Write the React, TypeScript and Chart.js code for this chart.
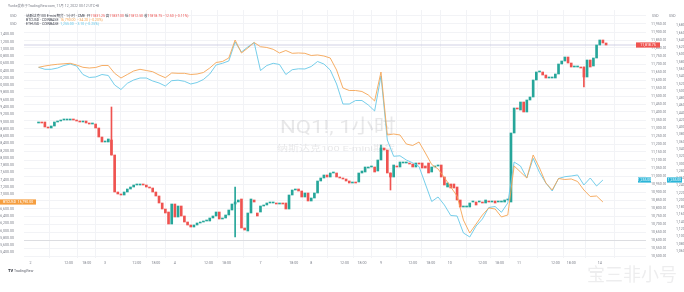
import React, { useEffect, useRef } from 'react';
import { Chart, registerables } from 'chart.js';

Chart.register(...registerables);

// ---- NQ1! hourly candles (CME E-mini Nasdaq-100), one per hour ----
const nqOpen = [
  11331.25, 11337.5, 11337.5, 11306.25, 11300, 11312.5, 11337.5, 11343.75, 11350, 11350,
  11350, 11356.25, 11350, 11343.75, 11337.5, 11343.75, 11331.25, 11325, 11325, 11300,
  11243.75, 11212.5, 11212.5, 11225, 11131.25, 10900, 10887.5, 10881.25, 10900, 10918.75,
  10931.25, 10943.75, 10943.75, 10950, 10943.75, 10931.25, 10925, 10900, 10875, 10831.25,
  10793.75, 10775, 10700, 10825, 10743.75, 10812.5, 10750, 10712.5, 10693.75, 10681.25,
  10693.75, 10706.25, 10712.5, 10718.75, 10718.75, 10737.5, 10750, 10775, 10731.25, 10737.5,
  10756.25, 10787.5, 10825, 10837.5, 10856.25, 10675, 10656.25, 10768.75, 10850, 10768.75,
  10775, 10812.5, 10818.75, 10831.25, 10831.25, 10831.25, 10825, 10831.25, 10831.25, 10793.75,
  10881.25, 10912.5, 10918.75, 10906.25, 10868.75, 10893.75, 10843.75, 10862.5, 10893.75, 10968.75,
  10987.5, 11006.25, 10993.75, 11018.75, 11018.75, 10993.75, 10987.5, 10981.25, 10968.75, 10956.25,
  10962.5, 10962.5, 11018.75, 11025, 11050, 11056.25, 11056.25, 11031.25, 11100, 11175,
  11162.5, 11018.75, 10993.75, 11062.5, 11056.25, 11081.25, 11081.25, 11081.25, 11075, 11056.25,
  11081.25, 11081.25, 11062.5, 11081.25, 11025, 11056.25, 11062.5, 11068.75, 10993.75, 10931.25,
  10950, 10950, 10931.25, 10850, 10806.25, 10806.25, 10806.25, 10837.5, 10837.5, 10837.5,
  10837.5, 10831.25, 10843.75, 10837.5, 10843.75, 10837.5, 10837.5, 10837.5, 10850, 10837.5,
  11268.75, 11425, 11412.5, 11462.5, 11400, 11475, 11493.75, 11600, 11650, 11650,
  11631.25, 11612.5, 11612.5, 11612.5, 11637.5, 11700, 11718.75, 11743.75, 11706.25, 11681.25,
  11681.25, 11681.25, 11681.25, 11618.75, 11725, 11687.5, 11737.5, 11818.75, 11850, 11831.25,
];
const nqClose = [
  11337.5, 11331.25, 11306.25, 11300, 11312.5, 11337.5, 11343.75, 11350, 11350, 11350,
  11356.25, 11350, 11343.75, 11337.5, 11343.75, 11331.25, 11325, 11325, 11300, 11243.75,
  11212.5, 11212.5, 11231.25, 11131.25, 10900, 10887.5, 10881.25, 10900, 10918.75, 10931.25,
  10943.75, 10943.75, 10950, 10943.75, 10931.25, 10925, 10900, 10875, 10831.25, 10793.75,
  10768.75, 10700, 10825, 10743.75, 10812.5, 10750, 10712.5, 10693.75, 10681.25, 10693.75,
  10706.25, 10712.5, 10718.75, 10725, 10737.5, 10750, 10775, 10731.25, 10737.5, 10756.25,
  10787.5, 10825, 10837.5, 10850, 10675, 10662.5, 10768.75, 10856.25, 10837.5, 10750,
  10812.5, 10818.75, 10831.25, 10831.25, 10831.25, 10825, 10831.25, 10825, 10793.75, 10881.25,
  10912.5, 10918.75, 10906.25, 10868.75, 10893.75, 10843.75, 10862.5, 10893.75, 10968.75, 10987.5,
  11006.25, 10993.75, 11018.75, 11025, 10993.75, 10987.5, 10981.25, 10968.75, 10956.25, 10962.5,
  10956.25, 11018.75, 11031.25, 11056.25, 11056.25, 11056.25, 11025, 11100, 11175, 11162.5,
  11018.75, 10993.75, 11068.75, 11056.25, 11087.5, 11081.25, 11081.25, 11075, 11056.25, 11081.25,
  11075, 11050, 11050, 11018.75, 11056.25, 11062.5, 11062.5, 10993.75, 10943.75, 10956.25,
  10925, 10925, 10850, 10806.25, 10806.25, 10812.5, 10831.25, 10837.5, 10818.75, 10837.5,
  10831.25, 10850, 10837.5, 10843.75, 10831.25, 10837.5, 10837.5, 10850, 10850, 11268.75,
  11425, 11418.75, 11462.5, 11400, 11475, 11493.75, 11600, 11650, 11650, 11631.25,
  11612.5, 11612.5, 11612.5, 11637.5, 11700, 11718.75, 11743.75, 11706.25, 11681.25, 11681.25,
  11681.25, 11675, 11618.75, 11725, 11681.25, 11737.5, 11818.75, 11850, 11831.25, 11818.75,
];
// visible wicks: [bar index, high, low]
const nqWicks: [number, number, number][] = [
  [23, 11431.25, 11131.25],
  [62, 10931.25, 10618.75],
  [108, 11193.75, 11175],
  [111, 11018.75, 10912.5],
  [172, 11681.25, 11556.25],
];

// ---- overlay symbols, one value every 2 hourly bars ----
const lineStep = 2;
const btcClose = [
  20494, 20530, 20558, 20577, 20591, 20604, 20558, 20494, 20475, 20489,
  20544, 20544, 20329, 20200, 20296, 20393, 20439, 20406, 20373, 20283,
  20208, 20338, 20329, 20329, 20296, 20310, 20351, 20475, 20626, 20654,
  20750, 21245, 20888, 21025, 21176, 21061, 21039, 20989, 20888, 20956,
  20879, 20888, 20879, 20819, 20833, 20805, 20750, 20420, 19925, 19856,
  19856, 19829, 19733, 19568, 20365, 18633, 18660, 18633, 18385, 18344,
  18440, 18138, 17821, 17698, 17464, 17203, 16955, 16295, 15938, 16185,
  16433, 16625, 16598, 16378, 16433, 17780, 17615, 17450, 18083, 17725,
  17313, 17120, 17436, 17409, 17423, 17354, 17120, 16941, 16955, 16790,
];
const ethClose = [
  1564.9, 1559.4, 1559.4, 1563, 1569.9, 1574, 1568.5, 1545.1, 1536.9, 1538.3,
  1545.1, 1542.4, 1516.3, 1503.9, 1520.9, 1530, 1535.5, 1535.5, 1527.3, 1521.8,
  1513.5, 1528.1, 1529.5, 1526.4, 1519, 1523.1, 1531.4, 1546.5, 1571.3, 1575.9,
  1582.3, 1634.5, 1607, 1620.8, 1633.1, 1556.1, 1569.9, 1575.9, 1572.6, 1545.1,
  1558.3, 1560.8, 1560.3, 1567.1, 1580.9, 1574, 1557.5, 1519, 1464, 1464,
  1473.6, 1473.6, 1461.3, 1444.8, 1541, 1365, 1320.2, 1321.6, 1310, 1302.3,
  1292.1, 1244, 1195.9, 1208.3, 1186.3, 1157.4, 1156, 1109.3, 1098.3, 1128.5,
  1147.8, 1179.4, 1182.1, 1166.2, 1191.8, 1304.5, 1293.5, 1260.5, 1314.7, 1275.6,
  1246.8, 1224.8, 1259.1, 1264.1, 1266, 1268.8, 1241.3, 1260.5, 1238.5, 1255,
];

// ---- time axis ----
const timeTickIdx = [-2.5, 9.5, 15.2, 21, 31, 37, 43, 53.6, 59.3, 70, 80.5, 86, 96.5, 102, 108, 118, 123.7, 129.7, 140, 145.4, 151.5, 163, 168, 177];
const timeTickLabels = ['2', '12:00', '18:00', '3', '12:00', '18:00', '4', '12:00', '18:00', '7', '18:00', '8', '12:00', '18:00', '9', '12:00', '18:00', '10', '12:00', '18:00', '11', '12:00', '18:00', '14'];

// ---- price scales ----
const nqRange = [10487.5, 12037.5];
const nqStep = 50;
const btcRange = [15250, 22070];
const btcStep = 200;
const ethRange = [1040.5, 1722.5];
const ethStep = 20;
const separatorLevel = 10600;

const UP = '#26a69a';
const DOWN = '#ef5350';
const BTC_C = '#f5a555';
const ETH_C = '#67c8e8';
const DARK = '#3a3d48';
const TICK_COLOR = '#7c7f8a';
const TICK_FONT = { size: 3.6, family: 'Roboto' };

const fmt = (v: number) => v.toLocaleString('en-US', { minimumFractionDigits: 2, maximumFractionDigits: 2 });
const stepTicks = (lo: number, hi: number, step: number) => {
  const out: { value: number }[] = [];
  for (let v = Math.ceil(lo / step) * step; v <= hi + 1e-9; v += step) out.push({ value: v });
  return out;
};

function fitText(ctx: CanvasRenderingContext2D, text: string, font: string, x: number, y: number, w: number) {
  ctx.font = font;
  const m = ctx.measureText(text).width;
  ctx.save();
  ctx.translate(x, y);
  ctx.scale(w / m, 1);
  ctx.fillText(text, 0, 0);
  ctx.restore();
}
function segs(ctx: CanvasRenderingContext2D, x: number, y: number, parts: [string, string][]) {
  let cx = x;
  for (const [t, c] of parts) {
    ctx.fillStyle = c;
    ctx.fillText(t, cx, y);
    cx += ctx.measureText(t).width;
  }
}
function tag(ctx: CanvasRenderingContext2D, x0: number, x1: number, yc: number, bg: string, text: string) {
  ctx.fillStyle = bg;
  ctx.fillRect(x0, yc - 2.6, x1 - x0, 5.2);
  ctx.fillStyle = '#ffffff';
  ctx.font = '3.5px Roboto';
  ctx.textBaseline = 'middle';
  ctx.textAlign = 'center';
  ctx.fillText(text, (x0 + x1) / 2, yc + 0.2);
  ctx.textAlign = 'left';
  ctx.textBaseline = 'alphabetic';
}

const overlayPlugin = {
  id: 'tvOverlay',
  beforeDatasetsDraw(chart: any) {
    const { ctx, chartArea: a, scales } = chart;
    ctx.save();
    ctx.textBaseline = 'alphabetic';
    ctx.fillStyle = 'rgba(42,46,57,0.11)';
    fitText(ctx, 'NQ1!, 1小时', '19px Roboto, "Noto Sans CJK SC"', 280, 132.5, 116);
    fitText(ctx, '纳斯达克100 E-mini期货', '8px Roboto, "Noto Sans CJK SC"', 277, 150.5, 118);
    const ys = Math.round(scales.y.getPixelForValue(separatorLevel)) + 0.5;
    ctx.strokeStyle = '#dcdde1';
    ctx.lineWidth = 1;
    ctx.beginPath();
    ctx.moveTo(a.left, ys);
    ctx.lineTo(a.right, ys);
    ctx.stroke();
    const yp = scales.y.getPixelForValue(nqClose[nqClose.length - 1]);
    ctx.strokeStyle = 'rgba(200,200,224,0.55)';
    ctx.lineWidth = 1.6;
    ctx.beginPath();
    ctx.moveTo(a.left, yp);
    ctx.lineTo(a.right, yp);
    ctx.stroke();
    ctx.restore();
  },
  afterDraw(chart: any) {
    const { ctx, scales } = chart;
    ctx.save();
    ctx.textBaseline = 'alphabetic';
    ctx.textAlign = 'left';
    ctx.font = '3.5px Roboto, "Noto Sans CJK SC"';
    ctx.fillStyle = '#7c7f8a';
    ctx.fillText('Yunke发布于TradingView.com, 11月 12, 2022 00:12 UTC+8', 8, 7);
    ctx.fillText('USD', 10, 16.5);
    ctx.fillText('USD', 10, 25);
    segs(ctx, 26, 16.5, [
      ['纳斯达克100 E-mini期货 · 1小时 · CME  ', DARK],
      ['开', DARK], ['11831.25 ', DOWN],
      ['高', DARK], ['11837.00 ', DOWN],
      ['低', DARK], ['11812.50 ', DOWN],
      ['收', DARK], ['11818.75 −12.50 (−0.11%)', DOWN],
    ]);
    segs(ctx, 26, 20.7, [['BTCUSD · COINBASE  ', DARK], ['16,790.00  −34.20 (−0.20%)', BTC_C]]);
    segs(ctx, 26, 25, [['ETHUSD · COINBASE  ', DARK], ['1,255.00  −3.10 (−0.25%)', ETH_C]]);
    ctx.fillStyle = '#7c7f8a';
    ctx.fillText('USD', 652, 17);
    ctx.fillText('USD', 669, 17);

    const lastNq = nqClose[nqClose.length - 1];
    const lastBtc = btcClose[btcClose.length - 1];
    const lastEth = ethClose[ethClose.length - 1];
    tag(ctx, 636, 660, scales.y.getPixelForValue(lastNq), DOWN, fmt(lastNq));
    tag(ctx, 0, 36, scales.yBtc.getPixelForValue(lastBtc), '#f59e3f', 'BTCUSD  ' + fmt(lastBtc));
    tag(ctx, 638, 651, scales.yEth.getPixelForValue(lastEth), '#2bb5d8', fmt(lastEth));
    tag(ctx, 667, 682, scales.yEth.getPixelForValue(lastEth), '#2bb5d8', fmt(lastEth));

    ctx.font = 'bold 4px Roboto';
    ctx.fillStyle = '#131722';
    ctx.fillText('TV', 8, 272);
    ctx.font = '3.5px Roboto';
    ctx.fillStyle = '#5d606b';
    ctx.fillText('TradingView', 14, 272);

    ctx.fillStyle = 'rgba(60,60,70,0.09)';
    fitText(ctx, '宝三非小号', '18px "Noto Sans CJK SC"', 587, 281, 90);
    ctx.restore();
  },
};

export default function App() {
  const ref = useRef<HTMLCanvasElement>(null);
  useEffect(() => {
    const canvas = ref.current;
    if (!canvas) return;
    const bodyColors = nqClose.map((c, i) => (c >= nqOpen[i] ? UP : DOWN));
    const wickColors = nqWicks.map(([i]) => (nqClose[i] >= nqOpen[i] ? UP : DOWN));
    const chart = new Chart(canvas, {
      type: 'bar',
      data: {
        datasets: [
          {
            type: 'line',
            label: 'BTCUSD',
            data: btcClose.map((v, j) => ({ x: j * lineStep, y: v })),
            yAxisID: 'yBtc',
            borderColor: BTC_C,
            borderWidth: 0.9,
            pointRadius: 0,
            tension: 0,
            order: 0,
          } as any,
          {
            type: 'line',
            label: 'ETHUSD',
            data: ethClose.map((v, j) => ({ x: j * lineStep, y: v })),
            yAxisID: 'yEth',
            borderColor: ETH_C,
            borderWidth: 0.9,
            pointRadius: 0,
            tension: 0,
            order: 0,
          } as any,
          {
            type: 'bar',
            label: 'NQ1! body',
            data: nqClose.map((c, i) => ({ x: i, y: [nqOpen[i], c] })),
            yAxisID: 'y',
            backgroundColor: bodyColors,
            borderWidth: 0,
            barThickness: 2,
            minBarLength: 1,
            grouped: false,
            order: 1,
          } as any,
          {
            type: 'bar',
            label: 'NQ1! wick',
            data: nqWicks.map(([i, h, l]) => ({ x: i, y: [l, h] })),
            yAxisID: 'y',
            backgroundColor: wickColors,
            borderWidth: 0,
            barThickness: 1,
            grouped: false,
            order: 2,
          } as any,
        ],
      },
      options: {
        responsive: false,
        animation: false,
        devicePixelRatio: 1,
        events: [],
        layout: { padding: { top: 10, left: 0, right: 0, bottom: 0 } },
        plugins: { legend: { display: false }, tooltip: { enabled: false } },
        scales: {
          x: {
            type: 'linear',
            position: 'bottom',
            min: -0.5,
            max: 187.5,
            border: { display: false },
            grid: {
              drawTicks: false,
              color: (c: any) => (c.tick && c.tick.value < -0.5 ? 'rgba(0,0,0,0)' : '#f2f3f6'),
            },
            ticks: {
              autoSkip: false,
              maxRotation: 0,
              padding: 3,
              font: TICK_FONT,
              color: TICK_COLOR,
              callback: (_v: any, i: number) => timeTickLabels[i] ?? '',
            },
            afterBuildTicks: (s: any) => { s.ticks = timeTickIdx.map((v) => ({ value: v })); },
            afterFit: (s: any) => { s.height = 34; },
          },
          yBtc: {
            type: 'linear',
            position: 'left',
            min: btcRange[0],
            max: btcRange[1],
            border: { display: false },
            grid: { display: false },
            ticks: {
              autoSkip: false,
              padding: 2,
              font: TICK_FONT,
              color: TICK_COLOR,
              callback: (v: any) => (Number(v) <= 21450 ? fmt(Number(v)) : ''),
            },
            afterBuildTicks: (s: any) => { s.ticks = stepTicks(btcRange[0], btcRange[1], btcStep); },
            afterFit: (s: any) => { s.width = 24; },
          },
          y: {
            type: 'linear',
            position: 'right',
            weight: 0,
            min: nqRange[0],
            max: nqRange[1],
            border: { display: false },
            grid: { drawTicks: false, color: '#f2f3f6' },
            ticks: {
              autoSkip: false,
              padding: 5,
              font: TICK_FONT,
              color: TICK_COLOR,
              callback: (v: any) => (Number(v) <= 11975 ? fmt(Number(v)) : ''),
            },
            afterBuildTicks: (s: any) => { s.ticks = stepTicks(nqRange[0], nqRange[1], nqStep); },
            afterFit: (s: any) => { s.width = 20; },
          },
          yEth: {
            type: 'linear',
            position: 'right',
            weight: 1,
            min: ethRange[0],
            max: ethRange[1],
            border: { display: false },
            grid: { display: false },
            ticks: {
              autoSkip: false,
              padding: 2,
              font: TICK_FONT,
              color: TICK_COLOR,
              callback: (v: any) => (Number(v) <= 1690 ? fmt(Number(v)) : ''),
            },
            afterBuildTicks: (s: any) => { s.ticks = stepTicks(ethRange[0], ethRange[1], ethStep); },
            afterFit: (s: any) => { s.width = 18; },
          },
        },
      } as any,
      plugins: [overlayPlugin],
    });
    return () => chart.destroy();
  }, []);

  return (
    <div style={{ position: 'fixed', left: 0, top: 0, width: 684, height: 292, background: '#ffffff' }}>
      <canvas ref={ref} width={684} height={292} style={{ display: 'block', width: 684, height: 292 }} />
    </div>
  );
}
